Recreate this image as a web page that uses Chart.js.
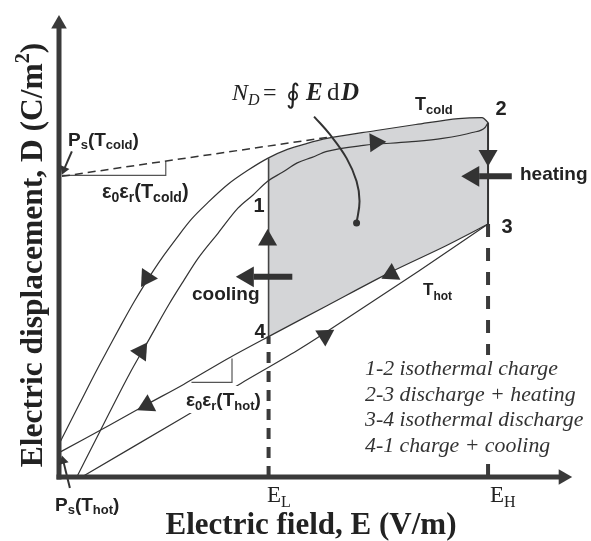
<!DOCTYPE html>
<html><head><meta charset="utf-8">
<script src="https://cdn.jsdelivr.net/npm/chart.js@4/dist/chart.umd.min.js"></script>
<style>html,body{margin:0;padding:0;background:#fff;}canvas{display:block;}</style>
</head><body>
<canvas id="c" width="591" height="541"></canvas>
<script>
// ---- data (E, D in arbitrary schematic units) ----
const coldOuterE = [1,21,38,51,63,76,86,96,106,119,134,151,171,191,211,231,251,271,321,361,404,428,434];
const coldOuterD = [35,74,107,131,153,176,192.5,208,222.5,240,259,276,294,308,320,329,335,340,348,354,360,361,356];
const coldInnerE = [18,41,71,91,111,126,141,161,181,196,211,226,241,256,271,308,354,388,418,431,434];
const coldInnerD = [0,45,103,138,173,197,220,245,270,283,297,306,315.5,321,327,333,336.5,340,346,351,356];
const hotUpperE = [434,391,334,271,212,171,126,89,51,1];
const hotUpperD = [254,232,205,172,141,119,93,73,52,25];
const hotLowerE = [434,364,268,241,184,126,23];
const hotLowerD = [254,207,144,127,94,60,0];
const psColdE = [3,271];
const psColdD = [302,341];
const cycleE = [212,231,251,271,321,361,404,428,434,434,391,334,271,212];
const cycleD = [320,329,335,340,348,354,360,361,356,254,232,205,172,141];
const E_L = 212, E_H = 434;
const D1 = 320, D2 = 356, D3 = 254, D4 = 141;
const slopeColdE = [3,108,108], slopeColdD = [303,303,317];
const slopeHotE = [134,175,175], slopeHotD = [95,95,119];
const ndPointerE = [258,274,291,301,304,301];
const ndPointerD = [362,344,320,297,277,255];
const flowArrowE = [89,83,320,434,336,89,269,211];
const flowArrowD = [200,126,336,323,204,72,142,238];
const flowArrowRot = [213,34,87,180,243,243,58,0];
const heatShaftE = [425,458], heatShaftD = [302,302];
const coolShaftE = [197,236], coolShaftD = [201,201];
const headE = [419,191], headD = [302,201], headRot = [270,270];
const psColdPtrE = [13,5], psColdPtrD = [327,308.6];
const psHotPtrE = [11,4.3], psHotPtrD = [-11,16.2];
const ptrHeadE = [5,4.3], ptrHeadD = [308.6,16.2], ptrHeadRot = [203.5,-14.5];
const axisYE = [0,0], axisYD = [0,450];
const axisXE = [0,506], axisXD = [0,0];
const axisHeadE = [0,510], axisHeadD = [455,0], axisHeadRot = [0,90];
const legendLines = ["1-2 isothermal charge","2-3 discharge + heating","3-4 isothermal discharge","4-1 charge + cooling"];

const INK = '#333333';
function pts(E, D){ return E.map((e,i)=>({x:e,y:D[i]})); }
function curve(E, D, o){ return Object.assign({data:pts(E,D),borderColor:INK,borderWidth:1.2,pointRadius:0,tension:0,fill:false,clip:false,showLine:true,order:2}, o||{}); }
function marks(E, D, rot, r, o){ return Object.assign({data:pts(E,D),showLine:false,pointStyle:'triangle',pointRotation:rot,pointRadius:r,pointBackgroundColor:INK,pointBorderWidth:0,pointHoverRadius:r,clip:false,order:0}, o||{}); }

const SB = s => `bold ${s}px "Liberation Sans", Arial, sans-serif`;
const SERB = s => `bold ${s}px "Liberation Serif", "Times New Roman", serif`;
const SER = s => `${s}px "Liberation Serif", "Times New Roman", serif`;
const SERI = s => `italic ${s}px "Liberation Serif", "Times New Roman", serif`;
const SERBI = s => `italic bold ${s}px "Liberation Serif", "Times New Roman", serif`;

function rich(ctx, x, y, parts, align){
  let w = 0;
  parts.forEach(p=>{ctx.font=p[1]; w+=ctx.measureText(p[0]).width;});
  let cx = align==='center' ? x-w/2 : x;
  parts.forEach(p=>{ctx.font=p[1]; ctx.fillText(p[0], cx, y+(p[2]||0)); cx+=ctx.measureText(p[0]).width;});
  return w;
}

const labels = {
  id:'labels',
  afterDatasetsDraw(chart){
    const ctx = chart.ctx;
    ctx.save();
    ctx.textAlign='left'; ctx.textBaseline='alphabetic';
    // masks
    ctx.fillStyle='#fff';
    ctx.fillRect(185,386,80,27);
    ctx.fillRect(358,355,230,102);
    ctx.fillStyle='#222';
    rich(ctx,68,146,[["P",SB(19)],["s",SB(13),3],["(T",SB(19)],["cold",SB(13),3],[")",SB(19)]]);
    rich(ctx,102,198,[["ε",SB(20)],["0",SB(14),4],["ε",SB(20)],["r",SB(14),4],["(T",SB(20)],["cold",SB(14),4],[")",SB(20)]]);
    rich(ctx,186,406,[["ε",SB(19)],["0",SB(13),4],["ε",SB(19)],["r",SB(13),4],["(T",SB(19)],["hot",SB(13),4],[")",SB(19)]]);
    rich(ctx,55,511,[["P",SB(19)],["s",SB(13),3],["(T",SB(19)],["hot",SB(13),3],[")",SB(19)]]);
    rich(ctx,415,110,[["T",SB(18)],["cold",SB(13),4]]);
    rich(ctx,423,295,[["T",SB(17)],["hot",SB(12),5]]);
    rich(ctx,259,212,[["1",SB(20)]],'center');
    rich(ctx,260,338,[["4",SB(20)]],'center');
    rich(ctx,501,115,[["2",SB(20)]],'center');
    rich(ctx,507,233,[["3",SB(20)]],'center');
    rich(ctx,520,180,[["heating",SB(19)]]);
    rich(ctx,192,300,[["cooling",SB(19)]]);
    rich(ctx,267,502,[["E",SER(23)],["L",SER(16),5]]);
    rich(ctx,490,502,[["E",SER(23)],["H",SER(16),5]]);
    // formula
    ctx.font=SERI(24); ctx.fillText("N",232,100);
    ctx.font=SERI(16); ctx.fillText("D",248,105);
    ctx.font=SER(24); ctx.fillText("=",263,100);
    ctx.font='27px "DejaVu Serif", serif'; ctx.fillText("∮",286,103);
    ctx.font=SERBI(25); ctx.fillText("E",306,100);
    ctx.font=SER(25); ctx.fillText("d",327,100);
    ctx.font=SERBI(25); ctx.fillText("D",341,100);
    // legend
    ctx.fillStyle='#333';
    const base=[375,400.7,426.3,452];
    legendLines.forEach((t,i)=>{ctx.font=SERI(21.8); ctx.fillText(t,365,base[i]);});
    // axis titles
    ctx.fillStyle='#222';
    rich(ctx,311,534,[["Electric field, E (V/m)",SERB(31)]],'center');
    ctx.translate(42,255); ctx.rotate(-Math.PI/2);
    rich(ctx,0,0,[["Electric displacement, D (C/m",SERB(31.5)],["2",SERB(20),-13],[")",SERB(31.5)]],'center');
    ctx.restore();
  }
};

new Chart(document.getElementById('c'), {
  type:'line',
  data:{datasets:[
    marks(flowArrowE, flowArrowD, flowArrowRot, 11),
    marks(headE, headD, headRot, 12),
    marks(ptrHeadE, ptrHeadD, ptrHeadRot, 5.5),
    marks(axisHeadE, axisHeadD, axisHeadRot, 9, {pointBackgroundColor:'#3a3a3a'}),
    curve(axisYE, axisYD, {borderWidth:5, borderColor:'#3a3a3a', borderCapStyle:'square', order:1}),
    curve(axisXE, axisXD, {borderWidth:5, borderColor:'#3a3a3a', borderCapStyle:'square', order:1}),
    curve(heatShaftE, heatShaftD, {borderWidth:6, order:1}),
    curve(coolShaftE, coolShaftD, {borderWidth:6, order:1}),
    curve(psColdPtrE, psColdPtrD, {borderWidth:2}),
    curve(psHotPtrE, psHotPtrD, {borderWidth:2}),
    curve(ndPointerE, ndPointerD, {borderWidth:2, tension:0.4, pointRadius:[0,0,0,0,0,3.5], pointBackgroundColor:INK, pointBorderWidth:0}),
    curve(coldOuterE, coldOuterD, {cubicInterpolationMode:'monotone'}),
    curve(coldInnerE, coldInnerD, {cubicInterpolationMode:'monotone'}),
    curve(hotUpperE, hotUpperD, {tension:0.3}),
    curve(hotLowerE, hotLowerD, {tension:0.3}),
    curve(psColdE, psColdD, {borderWidth:1.5, borderDash:[8,5]}),
    curve(slopeColdE, slopeColdD, {borderColor:'#555'}),
    curve(slopeHotE, slopeHotD, {borderColor:'#555'}),
    curve([E_L,E_L],[D4,D1], {borderWidth:1.6, borderColor:'#444'}),
    curve([E_H,E_H],[D2,D3], {borderWidth:2}),
    curve([E_L,E_L],[0,D4], {borderWidth:4, borderDash:[11,8], borderColor:'#3a3a3a', order:3}),
    curve([E_H,E_H],[0,D3], {borderWidth:4, borderDash:[13,11], borderColor:'#3a3a3a', order:3}),
    curve(cycleE, cycleD, {borderWidth:0, fill:'shape', backgroundColor:'#d4d5d7', order:10})
  ]},
  options:{
    responsive:false, animation:false, devicePixelRatio:1,
    layout:{padding:{left:59,right:6,top:10,bottom:64}},
    scales:{x:{type:'linear',min:0,max:526,display:false},y:{type:'linear',min:0,max:467,display:false}},
    plugins:{legend:{display:false},tooltip:{enabled:false}},
    events:[]
  },
  plugins:[labels]
});
</script>
</body></html>
